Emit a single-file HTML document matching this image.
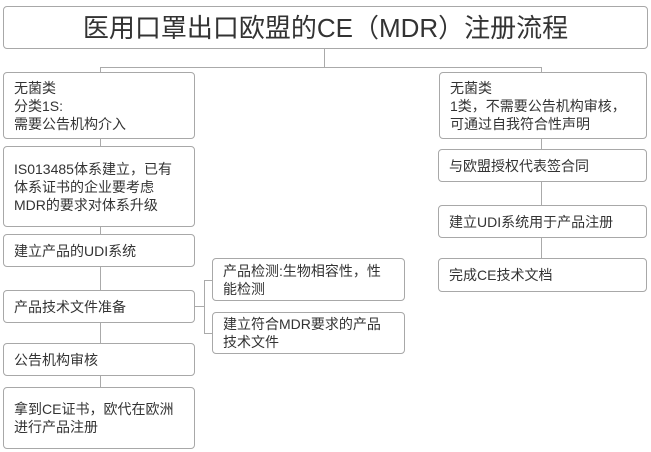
<!DOCTYPE html>
<html><head><meta charset="utf-8"><style>
body{margin:0;width:651px;height:452px;background:#fff;position:relative;overflow:hidden;font-family:"Liberation Sans","Noto Sans CJK SC",sans-serif;color:#333}
.b{position:absolute;box-sizing:border-box;border:1.5px solid #a8a8a8;border-radius:4px;background:#fff;font-size:14px;line-height:18px;padding:0 10px;display:flex;flex-direction:column;justify-content:center}
.l{position:absolute;background:#aaa}
</style></head><body>
<div class="l" style="left:324px;top:49px;width:1px;height:18px"></div>
<div class="l" style="left:100px;top:67px;width:442px;height:1px"></div>
<div class="l" style="left:100px;top:67px;width:1px;height:380px"></div>
<div class="l" style="left:541px;top:67px;width:1px;height:210px"></div>
<div class="l" style="left:195px;top:306px;width:9px;height:1px"></div>
<div class="l" style="left:204px;top:280px;width:1px;height:54px"></div>
<div class="l" style="left:204px;top:280px;width:8px;height:1px"></div>
<div class="l" style="left:204px;top:333px;width:8px;height:1px"></div>

<div class="b" style="left:3px;top:6px;width:645px;height:43px;font-size:26px;line-height:30px;align-items:center">医用口罩出口欧盟的CE（MDR）注册流程</div>

<div class="b" style="left:3px;top:72px;width:192px;height:67px">无菌类<br>分类1S:<br>需要公告机构介入</div>
<div class="b" style="left:3px;top:146px;width:192px;height:81px">IS013485体系建立，已有<br>体系证书的企业要考虑<br>MDR的要求对体系升级</div>
<div class="b" style="left:3px;top:234px;width:192px;height:33px">建立产品的UDI系统</div>
<div class="b" style="left:3px;top:290px;width:192px;height:33px">产品技术文件准备</div>
<div class="b" style="left:3px;top:343px;width:192px;height:33px">公告机构审核</div>
<div class="b" style="left:3px;top:387px;width:192px;height:62px">拿到CE证书，欧代在欧洲<br>进行产品注册</div>

<div class="b" style="left:212px;top:258px;width:193px;height:43px">产品检测:生物相容性，性<br>能检测</div>
<div class="b" style="left:212px;top:312px;width:193px;height:42px">建立符合MDR要求的产品<br>技术文件</div>

<div class="b" style="left:439px;top:72px;width:208px;height:67px">无菌类<br>1类，不需要公告机构审核，<br>可通过自我符合性声明</div>
<div class="b" style="left:438px;top:149px;width:209px;height:33px">与欧盟授权代表签合同</div>
<div class="b" style="left:438px;top:205px;width:209px;height:33px">建立UDI系统用于产品注册</div>
<div class="b" style="left:438px;top:258px;width:209px;height:34px">完成CE技术文档</div>
</body></html>
